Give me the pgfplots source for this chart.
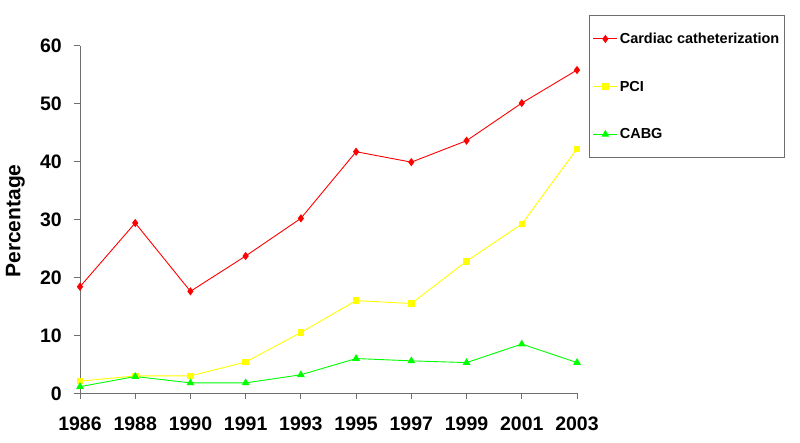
\documentclass[border=0pt]{standalone}
\usepackage{fontspec}
\setmainfont{Liberation Sans}
\usepackage{graphicx}
\usepackage{pgfplots}
\pgfplotsset{compat=1.18}

\definecolor{catred}{RGB}{255,0,0}
\definecolor{pciyellow}{RGB}{255,255,0}
\definecolor{cabggreen}{RGB}{0,255,0}
\definecolor{axgray}{RGB}{110,110,110}

% x = index of survey year (1986 ... 2003)
\pgfplotstableread{
x cath pci cabg
0 18.4  2.1 1.15
1 29.4  3.0 2.9
2 17.6  3.0 1.8
3 23.7  5.4 1.8
4 30.2 10.5 3.2
5 41.7 16.0 6.0
6 39.9 15.5 5.6
7 43.6 22.8 5.3
8 50.1 29.2 8.5
9 55.8 42.2 5.3
}\trends

\begin{document}
\begin{tikzpicture}
\useasboundingbox (-80pt,-48.7pt) rectangle (720pt,393.3pt);
\begin{axis}[
  at={(0pt,0pt)}, anchor=origin,
  scale only axis,
  width=497pt, height=347.6pt,
  xmin=0, xmax=9,
  ymin=0, ymax=60,
  axis x line=bottom,
  axis y line=left,
  axis line style={-, draw=axgray, line width=0.9pt},
  tick style={draw=axgray, line width=0.9pt},
  tick align=outside,
  major tick length=6pt,
  xtick={0,...,9},
  xticklabels={1986,1988,1990,1991,1993,1995,1997,1999,2001,2003},
  ytick={0,10,20,30,40,50,60},
  /pgf/number format/assume math mode=true,
  tick label style={font=\fontsize{19.5}{23}\selectfont\bfseries, inner sep=0pt},
  x tick label style={yshift=-17pt},
  y tick label style={xshift=-12pt},
  ylabel={Percentage},
  ylabel style={at={(axis description cs:-0.1298,0.4957)}, anchor=center,
    font=\fontsize{21}{25}\selectfont\bfseries},
  clip=false,
  legend cell align=left,
  legend image code/.code={
    \draw[mark repeat=2, mark phase=2] plot coordinates {(0pt,0pt) (12pt,0pt) (24pt,0pt)};
  },
  legend style={
    at={(1.0241,1.087)}, anchor=north west,
    draw=axgray, line width=0.9pt,
    font=\fontsize{14.5}{17}\selectfont\bfseries,
    inner xsep=3.5pt, inner ysep=15pt,
    row sep=32pt,
    nodes={inner sep=2pt},
    /tikz/every even column/.append style={column sep=5pt},
  },
]
\addplot[color=catred, line width=0.9pt, mark=diamond*, mark size=3.4pt,
  mark options={fill=catred, draw=catred}] table[x=x, y=cath] {\trends};
\addlegendentry{Cardiac catheterization}
\addplot[color=pciyellow, line width=0.9pt, mark=square*, mark size=2.8pt,
  mark options={fill=pciyellow, draw=pciyellow}] table[x=x, y=pci] {\trends};
\addlegendentry{PCI}
\addplot[color=cabggreen, line width=0.9pt, mark=triangle*, mark size=3.6pt,
  mark options={fill=cabggreen, draw=cabggreen}] table[x=x, y=cabg] {\trends};
\addlegendentry{CABG}
\end{axis}
\end{tikzpicture}
\end{document}
